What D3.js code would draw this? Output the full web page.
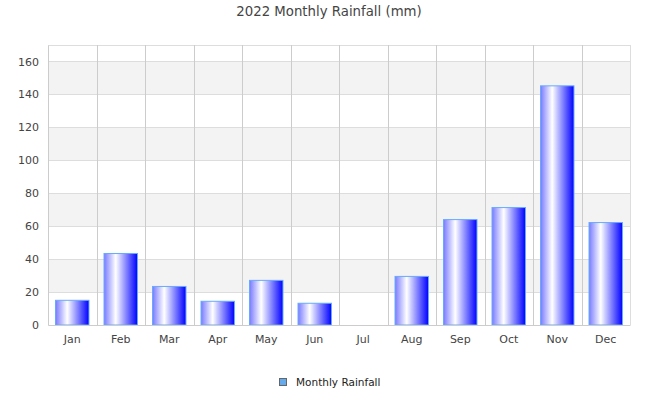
<!DOCTYPE html>
<html>
<head>
<meta charset="utf-8">
<script src="https://cdn.jsdelivr.net/npm/d3@7"></script>
<style>
  body { margin: 0; background: #fff; }
  svg text { font-family: "DejaVu Sans", sans-serif; }
</style>
</head>
<body>
<svg id="chart" width="660" height="400"></svg>
<script>
const months = ['Jan', 'Feb', 'Mar', 'Apr', 'May', 'Jun', 'Jul', 'Aug', 'Sep', 'Oct', 'Nov', 'Dec']
const rainfall = [15, 43.4, 23.4, 14.4, 27.1, 13.2, 0, 29.5, 64, 71.3, 145.2, 62.2]
const yTicks = [0, 20, 40, 60, 80, 100, 120, 140, 160]
const seriesName = 'Monthly Rainfall'
const title = '2022 Monthly Rainfall (mm)'

const margin = { top: 45, right: 30, bottom: 75, left: 48 }
const width = 660 - margin.left - margin.right
const height = 400 - margin.top - margin.bottom

const svg = d3.select('#chart')

const defs = svg.append('defs')
const grad = defs.append('linearGradient')
    .attr('id', 'barGrad')
    .attr('x1', '0%').attr('x2', '100%')
    .attr('y1', '0%').attr('y2', '0%')
grad.append('stop').attr('offset', '0%').attr('stop-color', '#7a7aff')
grad.append('stop').attr('offset', '35%').attr('stop-color', '#ffffff')
grad.append('stop').attr('offset', '100%').attr('stop-color', '#0000ff')

const chart = svg.append('g').attr('transform', `translate(${margin.left}, ${margin.top})`)

const x = d3.scaleBand().domain(months).range([0, width]).paddingInner(0.31).paddingOuter(0.155)
const y = d3.scaleLinear().domain([0, 170]).range([height, 0])

// alternating bands
const bands = d3.range(0, 170, 20).map(v => [v, Math.min(v + 20, 170)])
chart.selectAll('.band')
    .data(bands)
    .join('rect')
    .attr('class', 'band')
    .attr('x', 0)
    .attr('width', width)
    .attr('y', d => y(d[1]))
    .attr('height', d => y(d[0]) - y(d[1]))
    .attr('fill', (d, i) => i % 2 === 1 ? '#f3f3f3' : '#ffffff')

// horizontal grid
chart.selectAll('.hgrid')
    .data(yTicks.slice(1))
    .join('line')
    .attr('class', 'hgrid')
    .attr('x1', 0).attr('x2', width)
    .attr('y1', d => Math.round(y(d)) + 0.5).attr('y2', d => Math.round(y(d)) + 0.5)
    .attr('stroke', '#dddddd')

// top border
chart.append('line')
    .attr('x1', 0).attr('x2', width)
    .attr('y1', 0.5).attr('y2', 0.5)
    .attr('stroke', '#dddddd')

// vertical grid at category boundaries
chart.selectAll('.vgrid')
    .data(d3.range(0, months.length + 1))
    .join('line')
    .attr('class', 'vgrid')
    .attr('x1', i => Math.round(i * width / months.length) + 0.5)
    .attr('x2', i => Math.round(i * width / months.length) + 0.5)
    .attr('y1', 0).attr('y2', height)
    .attr('stroke', (d, i) => (i === 0 || i === months.length) ? '#dddddd' : '#cccccc')

// bars
chart.selectAll('.bar')
    .data(rainfall)
    .join('rect')
    .attr('class', 'bar')
    .attr('x', (d, i) => x(months[i]))
    .attr('width', x.bandwidth())
    .attr('y', d => y(d))
    .attr('height', d => y(0) - y(d))
    .attr('fill', 'url(#barGrad)')
    .attr('stroke', d => d > 0 ? '#66aaff' : 'none')
    .attr('stroke-width', 1)

// axes
chart.append('g')
    .attr('transform', `translate(0, ${height})`)
    .call(d3.axisBottom(x).tickSize(0).tickPadding(10))
    .call(g => g.select('.domain').attr('stroke', '#cccccc'))
    .call(g => g.selectAll('text').attr('fill', '#444').style('font-size', '11px').style('font-family', '"DejaVu Sans", sans-serif'))

chart.append('g')
    .call(d3.axisLeft(y).tickValues(yTicks).tickSize(0).tickPadding(9))
    .call(g => g.select('.domain').attr('stroke', '#cccccc'))
    .call(g => g.selectAll('text').attr('fill', '#444').style('font-size', '11px').style('font-family', '"DejaVu Sans", sans-serif'))

// title
svg.append('text')
    .attr('x', 329)
    .attr('y', 16)
    .attr('text-anchor', 'middle')
    .attr('fill', '#444')
    .style('font-size', '13.3px')
    .text(title)

// legend
const legend = svg.append('g').attr('transform', 'translate(279, 378)')
legend.append('rect')
    .attr('x', 0.5).attr('y', 0.5)
    .attr('width', 7).attr('height', 7)
    .attr('fill', '#66aaee')
    .attr('stroke', '#666')
legend.append('text')
    .attr('x', 17)
    .attr('y', 8)
    .attr('fill', '#222')
    .style('font-size', '10.5px')
    .text(seriesName)
</script>
</body>
</html>
